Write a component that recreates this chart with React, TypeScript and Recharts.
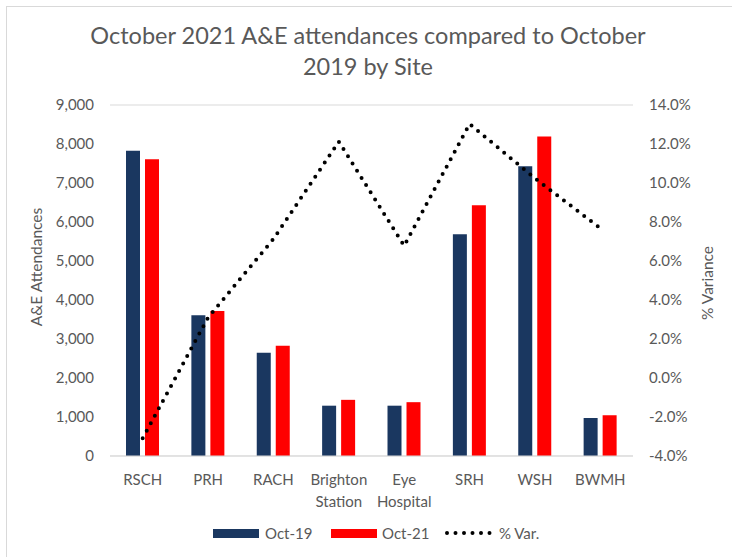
import React from 'react';
import { ComposedChart, Bar, Line, XAxis, YAxis, CartesianGrid, Legend } from 'recharts';

const categories = ['RSCH', 'PRH', 'RACH', 'Brighton Station', 'Eye Hospital', 'SRH', 'WSH', 'BWMH'];
const oct19 = [7830, 3610, 2650, 1290, 1290, 5685, 7430, 975];
const oct21 = [7610, 3720, 2830, 1440, 1380, 6430, 8190, 1045];
const variance = [-0.0309, 0.031, 0.0713, 0.1212, 0.0678, 0.1303, 0.1024, 0.0768];
const leftTicks = [0, 1000, 2000, 3000, 4000, 5000, 6000, 7000, 8000, 9000];
const rightTicks = [-0.04, -0.02, 0, 0.02, 0.04, 0.06, 0.08, 0.1, 0.12, 0.14];

const data = categories.map((c, i) => ({ site: c, oct19: oct19[i], oct21: oct21[i], pv: variance[i] }));

const FONT = 'Lato, "Open Sans", sans-serif';
const GREY = '#595959';
const NAVY = '#1A3760';
const RED = '#FF0000';

const CatTick = (props: any) => {
  const { x, y, payload } = props;
  const words = String(payload.value).split(' ');
  return (
    <text x={x} y={y} textAnchor="middle" fill={GREY} fontSize={15} fontFamily={FONT}>
      {words.map((w, i) => (
        <tspan key={i} x={x} dy={i === 0 ? 29 : 22}>{w}</tspan>
      ))}
    </text>
  );
};

const LegendContent = () => (
  <div style={{ position: 'relative', height: 20, fontFamily: FONT, fontSize: 15, color: GREY }}>
    <div style={{ position: 'absolute', left: 213, top: 7, width: 46, height: 9, background: NAVY }} />
    <div style={{ position: 'absolute', left: 265, top: 0, lineHeight: '22px' }}>Oct-19</div>
    <div style={{ position: 'absolute', left: 331, top: 7, width: 46, height: 9, background: RED }} />
    <div style={{ position: 'absolute', left: 382, top: 0, lineHeight: '22px' }}>Oct-21</div>
    <svg style={{ position: 'absolute', left: 444, top: 5 }} width={54} height={12}>
      <line x1={3} y1={6} x2={50} y2={6} stroke="#000" strokeWidth={4} strokeLinecap="round" strokeDasharray="0 8.5" />
    </svg>
    <div style={{ position: 'absolute', left: 499, top: 0, lineHeight: '22px' }}>% Var.</div>
  </div>
);

export default function App() {
  return (
    <div style={{ position: 'absolute', left: 0, top: 0, width: 732, height: 557, overflow: 'hidden', background: '#fff' }}>
      <div style={{ position: 'absolute', left: 6, top: 6, width: 760, height: 600, border: '1px solid #d9d9d9' }} />
      <div style={{ position: 'absolute', left: 2, top: 20, width: 732, textAlign: 'center', fontFamily: FONT, fontSize: 23.5, lineHeight: '31px', color: GREY }}>
        October 2021 A&amp;E attendances compared to October
        <br />
        2019 by Site
      </div>
      <div style={{ position: 'absolute', left: 0, top: 0 }}>
        <ComposedChart width={732} height={557} data={data} margin={{ top: 105, right: 0, bottom: 41, left: 0 }} barSize={14} barGap={5}>
          <CartesianGrid vertical={false} stroke="#d9d9d9" strokeWidth={1} />
          <XAxis dataKey="site" tick={<CatTick />} tickLine={false} axisLine={{ stroke: '#d9d9d9' }} tickSize={0} tickMargin={0} height={60} interval={0} />
          <YAxis yAxisId="left" orientation="left" width={110} domain={[0, 9000]} ticks={leftTicks} tickFormatter={(v: number) => v.toLocaleString('en-US')} tickLine={false} axisLine={false} tickSize={0} tickMargin={16} tick={{ fill: GREY, fontSize: 15, fontFamily: FONT }}
            label={() => <text x={36} y={267} transform="rotate(-90 36 267)" textAnchor="middle" dominantBaseline="central" fill={GREY} fontSize={15.5} fontFamily={FONT}>A&amp;E Attendances</text>} />
          <YAxis yAxisId="right" orientation="right" width={99} domain={[-0.04, 0.14]} ticks={rightTicks} tickFormatter={(v: number) => (v * 100).toFixed(1) + '%'} tickLine={false} axisLine={false} tickSize={0} tickMargin={16} tick={{ fill: GREY, fontSize: 15, fontFamily: FONT, textAnchor: 'start' }}
            label={() => <text x={707} y={283} transform="rotate(-90 707 283)" textAnchor="middle" dominantBaseline="central" fill={GREY} fontSize={15.5} fontFamily={FONT}>% Variance</text>} />
          <Bar yAxisId="left" dataKey="oct19" name="Oct-19" fill={NAVY} isAnimationActive={false} />
          <Bar yAxisId="left" dataKey="oct21" name="Oct-21" fill={RED} isAnimationActive={false} />
          <Line yAxisId="right" dataKey="pv" name="% Var." stroke="#000" strokeWidth={4} strokeLinecap="round" strokeDasharray="0 8.5" dot={false} activeDot={false} isAnimationActive={false} />
          <Legend layout="vertical" verticalAlign="middle" align="center" content={<LegendContent />} wrapperStyle={{ top: 522, left: 0, width: 732, height: 22 }} />
        </ComposedChart>
      </div>
    </div>
  );
}
